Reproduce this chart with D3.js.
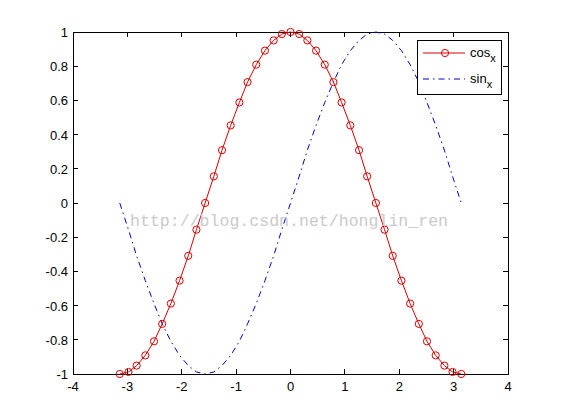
<!DOCTYPE html>
<html><head><meta charset="utf-8">
<script src="https://cdn.jsdelivr.net/npm/d3@7"></script>
<style>body{margin:0;background:#fff}svg{display:block}</style>
</head><body>
<script>
const xVals = [-3.14,-2.98,-2.83,-2.67,-2.51,-2.36,-2.20,-2.04,-1.88,-1.73,-1.57,-1.41,-1.26,-1.10,-0.94,-0.79,-0.63,-0.47,-0.31,-0.16,0,0.16,0.31,0.47,0.63,0.79,0.94,1.10,1.26,1.41,1.57,1.73,1.88,2.04,2.20,2.36,2.51,2.67,2.83,2.98,3.14];
const cosVals = [-1,-0.988,-0.951,-0.891,-0.809,-0.707,-0.588,-0.454,-0.309,-0.156,0,0.156,0.309,0.454,0.588,0.707,0.809,0.891,0.951,0.988,1,0.988,0.951,0.891,0.809,0.707,0.588,0.454,0.309,0.156,0,-0.156,-0.309,-0.454,-0.588,-0.707,-0.809,-0.891,-0.951,-0.988,-1];
const sinVals = [0,-0.156,-0.309,-0.454,-0.588,-0.707,-0.809,-0.891,-0.951,-0.988,-1,-0.988,-0.951,-0.891,-0.809,-0.707,-0.588,-0.454,-0.309,-0.156,0,0.156,0.309,0.454,0.588,0.707,0.809,0.891,0.951,0.988,1,0.988,0.951,0.891,0.809,0.707,0.588,0.454,0.309,0.156,0];
const xTicks = [-4,-3,-2,-1,0,1,2,3,4];
const yTicks = [-1,-0.8,-0.6,-0.4,-0.2,0,0.2,0.4,0.6,0.8,1];
const seriesNames = ["cos","sin"];
const watermark = "http://blog.csdn.net/honglin_ren";

const W = 561, H = 420;
const L = 73, R = 508, T = 32, B = 374;
const RED = "#d80000", BLUE = "#0000c8", DASH = "6,4,1.5,4";
const svg = d3.select("body").append("svg").attr("width", W).attr("height", H);
svg.append("rect").attr("width", W).attr("height", H).attr("fill", "#fff");

const x = d3.scaleLinear().domain([-4, 4]).range([L, R]);
const y = d3.scaleLinear().domain([-1, 1]).range([B, T]);
const font = "'Liberation Sans', Arial, sans-serif";

// axes (ticks inward on all sides)
const tl = 5;
const ax = svg.append("g").attr("stroke", "#000").attr("stroke-width", 1).attr("shape-rendering", "crispEdges");
ax.append("rect").attr("x", L).attr("y", T).attr("width", R - L).attr("height", B - T).attr("fill", "none");
xTicks.forEach(t => {
  ax.append("line").attr("x1", x(t)).attr("x2", x(t)).attr("y1", B).attr("y2", B - tl);
  ax.append("line").attr("x1", x(t)).attr("x2", x(t)).attr("y1", T).attr("y2", T + tl);
});
yTicks.forEach(t => {
  ax.append("line").attr("x1", L).attr("x2", L + tl).attr("y1", y(t)).attr("y2", y(t));
  ax.append("line").attr("x1", R).attr("x2", R - tl).attr("y1", y(t)).attr("y2", y(t));
});
svg.append("g").selectAll("text").data(xTicks).join("text")
  .attr("x", d => x(d)).attr("y", B + 17).attr("text-anchor", "middle")
  .attr("font-family", font).attr("font-size", 13).attr("fill", "#000")
  .text(d => String(d));
svg.append("g").selectAll("text").data(yTicks).join("text")
  .attr("x", L - 5).attr("y", d => y(d) + 5).attr("text-anchor", "end")
  .attr("font-family", font).attr("font-size", 13).attr("fill", "#000")
  .text(d => String(d));

// sin dash-dot
const line = d3.line().x((d, i) => x(xVals[i])).y(d => y(d));
svg.append("path").datum(sinVals).attr("d", line)
  .attr("fill", "none").attr("stroke", BLUE).attr("stroke-width", 1)
  .attr("stroke-dasharray", DASH);

// cos with circles
svg.append("path").datum(cosVals).attr("d", line)
  .attr("fill", "none").attr("stroke", RED).attr("stroke-width", 1);
svg.append("g").selectAll("circle").data(cosVals).join("circle")
  .attr("cx", (d, i) => x(xVals[i])).attr("cy", d => y(d)).attr("r", 3.6)
  .attr("fill", "none").attr("stroke", RED).attr("stroke-width", 1);

// watermark
svg.append("text").attr("x", 130).attr("y", 226)
  .attr("font-family", "'Liberation Mono', 'DejaVu Sans Mono', monospace")
  .attr("font-size", 17).attr("fill", "#cacaca")
  .attr("textLength", 318).attr("lengthAdjust", "spacingAndGlyphs")
  .text(watermark);

// legend
const lg = svg.append("g");
lg.append("rect").attr("x", 417).attr("y", 40).attr("width", 84).attr("height", 54)
  .attr("fill", "#fff").attr("stroke", "#000").attr("shape-rendering", "crispEdges");
lg.append("line").attr("x1", 423).attr("x2", 465).attr("y1", 53).attr("y2", 53)
  .attr("stroke", RED).attr("stroke-width", 1);
lg.append("circle").attr("cx", 445).attr("cy", 53).attr("r", 3.6)
  .attr("fill", "none").attr("stroke", RED);
lg.append("line").attr("x1", 423).attr("x2", 465).attr("y1", 79).attr("y2", 79)
  .attr("stroke", BLUE).attr("stroke-width", 1).attr("stroke-dasharray", DASH);
[[seriesNames[0], 57], [seriesNames[1], 83]].forEach(([n, yy]) => {
  const t = lg.append("text").attr("x", 470).attr("y", yy)
    .attr("font-family", font).attr("font-size", 13).attr("fill", "#000");
  t.append("tspan").text(n);
  t.append("tspan").attr("dy", 5).attr("font-size", 11).text("x");
});
</script>
</body></html>
